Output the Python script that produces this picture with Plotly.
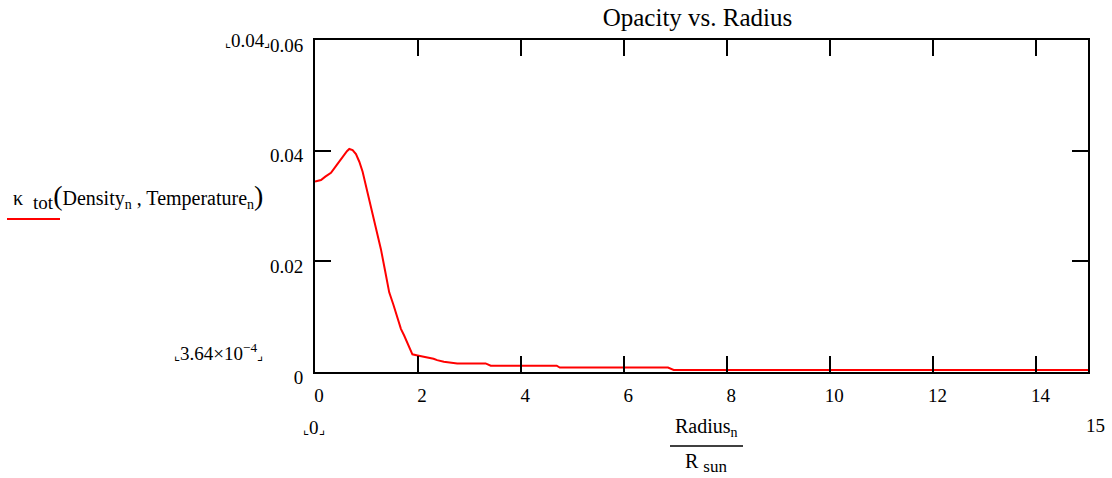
import plotly.graph_objects as go

# Normalised radius (Radius_n / R_sun) and total opacity kappa_tot
radius = [0.0, 0.116, 0.2, 0.31, 0.42, 0.537, 0.62, 0.665, 0.73, 0.795, 0.86, 0.924,
          1.0, 1.085, 1.18, 1.279, 1.36, 1.44, 1.52, 1.60, 1.667, 1.73, 1.80, 1.85,
          1.89, 1.99, 2.1, 2.21, 2.3, 2.37, 2.5, 2.76, 3.31, 3.41, 4.69, 4.75, 6.85,
          6.96, 15.0]
kappa = [0.0344, 0.0347, 0.0353, 0.0360, 0.0374, 0.0389, 0.0399, 0.0403, 0.0401,
         0.0394, 0.0380, 0.0362, 0.0333, 0.0299, 0.0260, 0.0222, 0.0183, 0.0144,
         0.0122, 0.0099, 0.0078, 0.0066, 0.0051, 0.0040, 0.0032, 0.0030, 0.0028,
         0.0025, 0.0024, 0.00215, 0.00185, 0.00155, 0.00155, 0.00113, 0.00113,
         0.0008, 0.0008, 0.00036, 0.00036]

x_ticks = [0, 2, 4, 6, 8, 10, 12, 14]
y_ticks = [0, 0.02, 0.04, 0.06]
y_tick_text = ["0", "0.02", "0.04", "0.06"]

W, H = 1112, 478
PL, PR, PT, PB = 315, 1088, 40, 372
SERIF = "Liberation Serif"
BLACK = "#000000"
RED = "#ff0000"


def px(x):
    return (x - PL) / (PR - PL)


def py(y):
    return (PB - y) / (PB - PT)


fig = go.Figure()
fig.add_trace(go.Scatter(x=radius, y=kappa, mode="lines",
                         line=dict(color=RED, width=2), showlegend=False,
                         hoverinfo="skip"))

axis_common = dict(showline=True, linecolor=BLACK, linewidth=2, mirror="allticks",
                   ticks="inside", ticklen=16, tickwidth=2, tickcolor=BLACK,
                   showgrid=False, zeroline=False,
                   tickfont=dict(family=SERIF, size=19, color=BLACK))

fig.update_xaxes(range=[0, 15], tickvals=x_ticks, ticklabelshift=4,
                 ticklabelstandoff=5, **axis_common)
fig.update_yaxes(range=[0, 0.06], tickvals=y_ticks, ticktext=y_tick_text,
                 ticklabelshift=5, ticklabelstandoff=6, **axis_common)

ann = []


def label(text, x, y, xanchor="center", yanchor="middle", size=20):
    ann.append(dict(text=text, x=px(x), y=py(y), xref="paper", yref="paper",
                    xanchor=xanchor, yanchor=yanchor, showarrow=False,
                    font=dict(family=SERIF, size=size, color=BLACK)))


corner_l = "<span style='font-size:13px'>⌞</span>"
corner_r = "<span style='font-size:13px'>⌟</span>"

label(corner_l + "0.04" + corner_r, 272, 40, xanchor="right", size=19)
label(corner_l + "3.64×10<sup>−4</sup>" + corner_r, 172, 352, xanchor="left", size=19)
label(corner_l + "0" + corner_r, 314, 427, size=19)
label("15", 1095, 425, size=19)

paren_l = "<span style='font-size:28px'>(</span>"
paren_r = "<span style='font-size:28px'>)</span>"
label("κ  <sub><span style='font-size:19px'>tot</span></sub>" + paren_l
      + "Density<sub>n</sub> , Temperature<sub>n</sub>" + paren_r,
      11, 196, xanchor="left", size=20)

label("Radius<sub>n</sub>", 706, 427, size=20)
label("R <sub><span style='font-size:17px'>sun</span></sub>", 706, 463, size=20)

fig.update_layout(
    width=W, height=H,
    margin=dict(l=PL, r=W - PR, t=PT, b=H - PB, pad=0),
    paper_bgcolor="white", plot_bgcolor="white",
    title=dict(text="Opacity vs. Radius", x=697.5 / W, xanchor="center",
               y=1 - 17 / H, yanchor="middle",
               font=dict(family=SERIF, size=25, color=BLACK)),
    annotations=ann,
    shapes=[
        # legend sample under the y-axis expression
        dict(type="line", xref="paper", yref="paper", x0=px(7), x1=px(60),
             y0=py(219), y1=py(219), line=dict(color=RED, width=2)),
        # fraction bar of the x-axis expression
        dict(type="line", xref="paper", yref="paper", x0=px(670), x1=px(743),
             y0=py(446), y1=py(446), line=dict(color=BLACK, width=1.5)),
    ],
)

fig.write_html("out.html")
